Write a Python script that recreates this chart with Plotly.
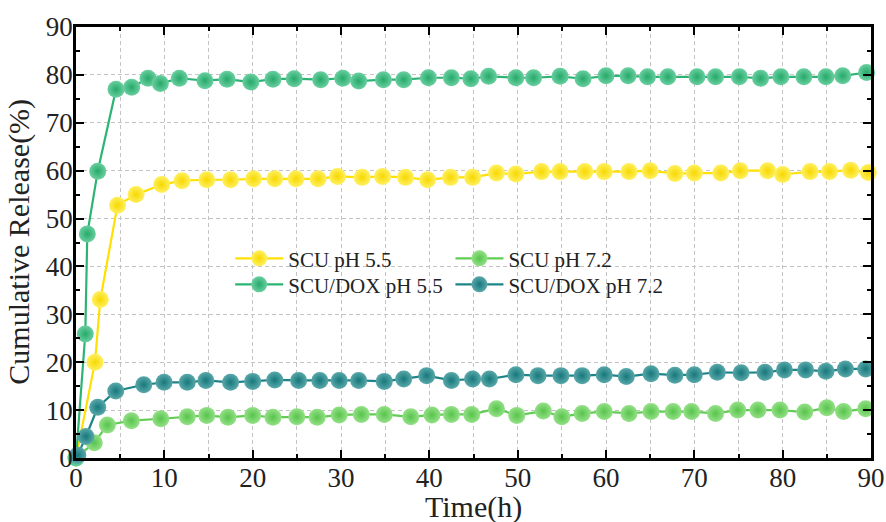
import plotly.graph_objects as go

# ---- data ----
time_scu_55 = [0, 2.15, 2.75, 4.7, 6.8, 9.7, 12.0, 14.8, 17.5, 20.1, 22.5, 24.9, 27.4, 29.6,
               32.4, 34.7, 37.3, 39.8, 42.4, 44.9, 47.6, 49.8, 52.7, 54.8, 57.6, 59.8, 62.6,
               65.0, 67.8, 70.0, 73.0, 75.2, 78.3, 80.0, 83.1, 85.3, 87.7, 89.7]
rel_scu_55 = [0, 20.0, 33.1, 52.8, 55.0, 57.1, 57.9, 58.1, 58.1, 58.3, 58.3, 58.3, 58.3, 58.8,
              58.6, 58.8, 58.6, 58.1, 58.6, 58.6, 59.5, 59.3, 59.8, 59.8, 59.8, 59.8, 59.8,
              60.0, 59.4, 59.5, 59.5, 60.0, 60.0, 59.2, 59.8, 59.8, 60.1, 59.6]

time_scu_72 = [0, 2.07, 3.55, 6.27, 9.6, 12.6, 14.8, 17.2, 20.0, 22.3, 25.0, 27.3, 29.8, 32.3,
               34.9, 37.9, 40.3, 42.5, 44.8, 47.6, 49.9, 52.9, 55.0, 57.3, 59.8, 62.6, 65.1,
               67.6, 69.7, 72.4, 74.9, 77.2, 79.7, 82.5, 85.0, 86.9, 89.4]
rel_scu_72 = [0, 3.2, 6.9, 7.8, 8.2, 8.6, 8.9, 8.5, 8.9, 8.5, 8.6, 8.5, 9.0, 9.1,
              9.1, 8.6, 9.0, 9.1, 9.1, 10.3, 8.9, 9.8, 8.6, 9.3, 9.7, 9.3, 9.7,
              9.7, 9.7, 9.3, 10.0, 10.0, 10.0, 9.6, 10.5, 9.7, 10.3]

time_dox_55 = [0, 1.05, 1.28, 2.46, 4.53, 6.3, 8.15, 9.55, 11.7, 14.6, 17.1, 19.8, 22.3, 24.7,
               27.7, 30.2, 32.0, 34.8, 37.1, 39.9, 42.5, 44.7, 46.7, 49.8, 51.8, 54.8, 57.4,
               60.0, 62.5, 64.7, 67.0, 70.3, 72.4, 75.1, 77.5, 79.8, 82.4, 84.9, 86.8, 89.5]
rel_dox_55 = [0, 25.9, 46.8, 59.9, 77.0, 77.4, 79.3, 78.2, 79.3, 78.8, 79.1, 78.5, 79.1, 79.2,
              79.0, 79.3, 78.7, 79.0, 79.0, 79.4, 79.4, 79.2, 79.7, 79.4, 79.4, 79.7, 79.2,
              79.8, 79.8, 79.6, 79.6, 79.6, 79.6, 79.6, 79.3, 79.6, 79.6, 79.6, 79.8, 80.5]

time_dox_72 = [0.2, 1.13, 2.46, 4.5, 7.67, 9.97, 12.6, 14.7, 17.5, 20.0, 22.5, 25.2, 27.6, 29.8,
               32.0, 34.9, 37.1, 39.7, 42.5, 44.9, 46.8, 49.8, 52.3, 54.9, 57.3, 59.8, 62.3,
               65.1, 67.8, 70.0, 72.6, 75.3, 78.0, 80.2, 82.6, 84.9, 87.1, 89.4]
rel_dox_72 = [0.6, 4.5, 10.6, 14.0, 15.3, 15.8, 15.8, 16.2, 15.8, 16.0, 16.3, 16.2, 16.2, 16.2,
              16.2, 16.0, 16.5, 17.2, 16.2, 16.5, 16.5, 17.4, 17.2, 17.2, 17.2, 17.4, 17.0,
              17.6, 17.3, 17.4, 17.9, 17.8, 17.9, 18.4, 18.4, 18.1, 18.6, 18.6]

series_names = ["SCU pH 5.5", "SCU pH 7.2", "SCU/DOX pH 5.5", "SCU/DOX pH 7.2"]
x_ticks = [0, 10, 20, 30, 40, 50, 60, 70, 80, 90]
y_ticks = [0, 10, 20, 30, 40, 50, 60, 70, 80, 90]
x_title = "Time(h)"
y_title = "Cumulative Release(%)"

# ---- styling ----
FONT = "Liberation Serif"
styles = [
    dict(x=time_scu_55, y=rel_scu_55, line="#FFE000", fill="#FFF060", edge="#F7D800", legend="legend"),
    dict(x=time_scu_72, y=rel_scu_72, line="#62CC55", fill="#95E088", edge="#57C44B", legend="legend2"),
    dict(x=time_dox_55, y=rel_dox_55, line="#2DB474", fill="#6ACFA0", edge="#26A96A", legend="legend3"),
    dict(x=time_dox_72, y=rel_dox_72, line="#1D8487", fill="#5AA8AA", edge="#16787B", legend="legend4"),
]

fig = go.Figure()
for name, s in zip(series_names, styles):
    fig.add_trace(go.Scatter(
        x=s["x"], y=s["y"], name=name, mode="lines+markers",
        line=dict(color=s["line"], width=2.2),
        marker=dict(size=17, color=s["fill"], line=dict(width=0),
                    gradient=dict(type="radial", color=s["edge"])),
        cliponaxis=False, legend=s["legend"], showlegend=True,
    ))

grid = dict(showgrid=True, gridcolor="#c4c4c4", gridwidth=1, griddash="4px,3px")
axis_common = dict(
    ticks="inside", ticklen=8, tickwidth=2, tickcolor="black",
    showline=True, linewidth=2.5, linecolor="black", mirror="ticks",
    zeroline=False, automargin=False,
    tickfont=dict(family=FONT, size=27, color="#222"),
)

leg_common = dict(xanchor="left", yanchor="top", bgcolor="rgba(0,0,0,0)",
                  font=dict(family=FONT, size=21, color="#222"), itemwidth=48)
col1, col2 = 0.194, 0.471
row1, row2 = 0.510, 0.4496

fig.update_layout(
    width=886, height=522,
    margin=dict(l=76, r=15, t=27, b=64, autoexpand=False),
    paper_bgcolor="white", plot_bgcolor="white",
    font=dict(family=FONT, color="#222"),
    showlegend=True,
    xaxis=dict(range=[0, 90], tickvals=x_ticks, **grid, **axis_common,
               ticklabelstandoff=-6,
               minor=dict(dtick=5, tick0=0, ticks="inside", ticklen=4, tickwidth=1.5,
                          tickcolor="black", showgrid=True, gridcolor="#c4c4c4",
                          griddash="4px,3px", gridwidth=1)),
    yaxis=dict(range=[0, 90], tickvals=y_ticks, **grid, **axis_common,
               ticklabelstandoff=-5,
               minor=dict(dtick=5, tick0=0, ticks="inside", ticklen=4, tickwidth=1.5,
                          tickcolor="black", showgrid=False)),
    legend=dict(x=col1, y=row1, **leg_common),
    legend2=dict(x=col2, y=row1, **leg_common),
    legend3=dict(x=col1, y=row2, **leg_common),
    legend4=dict(x=col2, y=row2, **leg_common),
    annotations=[
        dict(text=x_title, xref="paper", yref="paper", x=0.5, y=-0.1137,
             xanchor="center", yanchor="middle", showarrow=False,
             font=dict(family=FONT, size=30, color="#222")),
        dict(text=y_title, xref="paper", yref="paper", x=-0.0717, y=0.502,
             xanchor="center", yanchor="middle", textangle=-90, showarrow=False,
             font=dict(family=FONT, size=30, color="#222")),
    ],
)

fig.write_html("out.html")
